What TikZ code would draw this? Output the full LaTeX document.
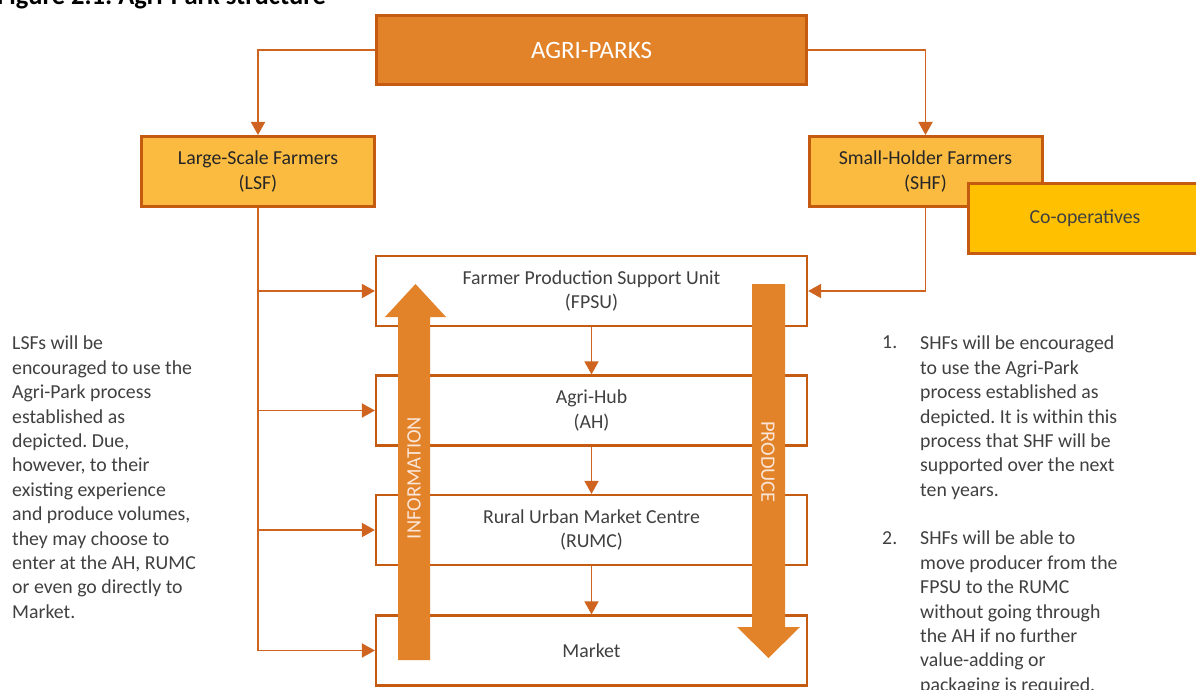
\documentclass[tikz,border=0pt]{standalone}
\usepackage{fontspec}
\setmainfont{Carlito}
\usetikzlibrary{arrows.meta}
\frenchspacing
\definecolor{parkorange}{HTML}{E2832A}
\definecolor{edgeorange}{HTML}{C55A11}
\definecolor{farmyellow}{HTML}{FBBB41}
\definecolor{coopyellow}{HTML}{FFC000}
\definecolor{linkorange}{HTML}{CE6420}
\definecolor{textgray}{HTML}{404040}
\definecolor{flowtext}{HTML}{FBE5D6}
\tikzset{
    park/.style={draw=edgeorange, fill=parkorange, line width=3pt, minimum width=430pt, minimum height=69pt, text=white, font=\fontsize{25}{29}\selectfont},
    farm/.style={draw=edgeorange, fill=farmyellow, line width=3pt, minimum width=233pt, minimum height=70pt, align=center, text=black!85, font=\fontsize{19.8}{25}\selectfont},
    coop/.style={farm, fill=coopyellow, text=textgray},
    stage/.style={draw=edgeorange, fill=white, line width=2.2pt, minimum width=431pt, minimum height=70pt, align=center, text=textgray, font=\fontsize{19.8}{24.5}\selectfont},
    wire/.style={draw=linkorange, line width=1.8pt},
    link/.style={wire, -{Triangle[length=13pt, width=14pt]}},
    flow/.style={fill=parkorange},
    flowlbl/.style={text=flowtext, font=\fontsize{20.5}{24}\selectfont},
    note/.style={align=left, text=textgray, inner sep=0pt, anchor=north west, font=\fontsize{19.8}{24.4}\selectfont}
}
\begin{document}
\begin{tikzpicture}[x=1pt, y=-1pt]
    \useasboundingbox (0,0) rectangle (1196,690);
    \node[anchor=base west, inner sep=0pt, font=\bfseries\fontsize{26.5}{30}\selectfont] (title) at (-3,5) {Figure 2.1: Agri-Park structure};

    \node[park] (park) at (591.5,50) {AGRI-PARKS};
    \node[farm] (lsf) at (258,171.5) {Large-Scale Farmers\\(LSF)};
    \node[farm] (shf) at (925.5,171.5) {Small-Holder Farmers\\(SHF)};
    \node[coop] (coop) at (1085,218) {Co-operatives};

    \node[stage] (fpsu) at (591.5,291) {Farmer Production Support Unit\\(FPSU)};
    \node[stage] (ah) at (591.5,410.5) {Agri-Hub\\(AH)};
    \node[stage] (rumc) at (591.5,530) {Rural Urban Market Centre\\(RUMC)};
    \node[stage] (market) at (591.5,650.5) {Market};

    \draw[link] (park.west) -| (lsf.north);
    \draw[link] (park.east) -| (shf.north);
    \draw[link] (shf.south) |- (fpsu.east);
    \draw[link] (lsf.south) |- (market.west);
    \draw[link] (lsf.south |- fpsu.west) -- (fpsu.west);
    \draw[link] (lsf.south |- ah.west) -- (ah.west);
    \draw[link] (lsf.south |- rumc.west) -- (rumc.west);
    \draw[link] (fpsu) -- (ah);
    \draw[link] (ah) -- (rumc);
    \draw[link] (rumc) -- (market);

    % big flow arrows
    \fill[flow] (398,660) -- (398,317) -- (385,317) -- (415.5,284) -- (446,317) -- (430,317) -- (430,660) -- cycle;
    \fill[flow] (752,284) -- (752,627) -- (737,627) -- (768.5,658) -- (800,627) -- (785,627) -- (785,284) -- cycle;
    \node[flowlbl, rotate=90] (info) at (414,478) {INFORMATION};
    \node[flowlbl, rotate=-90] (produce) at (768,462) {PRODUCE};

    \node[note] (lsfnote) at (12,336) {LSFs will be\\encouraged to use the\\Agri-Park process\\established as\\depicted. Due,\\however, to their\\existing experience\\and produce volumes,\\they may choose to\\enter at the AH, RUMC\\or even go directly to\\Market.};
    \node[note] (num1) at (882,336) {1.};
    \node[note] (shfnote1) at (920,336) {SHFs will be encouraged\\to use the Agri-Park\\process established as\\depicted. It is within this\\process that SHF will be\\supported over the next\\ten years.};
    \node[note] (num2) at (882,531) {2.};
    \node[note] (shfnote2) at (920,531) {SHFs will be able to\\move producer from the\\FPSU to the RUMC\\without going through\\the AH if no further\\value-adding or\\packaging is required.};
\end{tikzpicture}
\end{document}
